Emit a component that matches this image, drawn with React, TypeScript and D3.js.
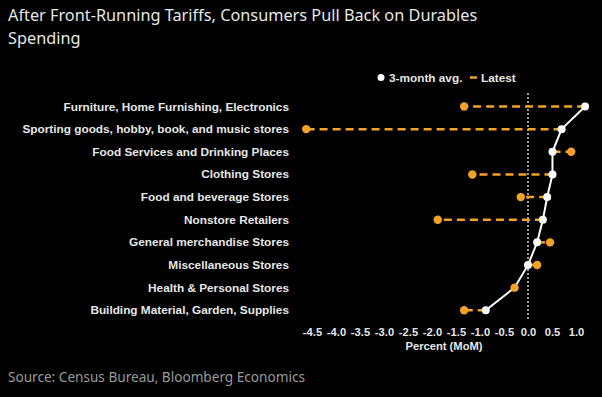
import React, { useEffect, useRef } from 'react';
import * as d3 from 'd3';

const categories = [
  'Furniture, Home Furnishing, Electronics',
  'Sporting goods, hobby, book, and music stores',
  'Food Services and Drinking Places',
  'Clothing Stores',
  'Food and beverage Stores',
  'Nonstore Retailers',
  'General merchandise Stores',
  'Miscellaneous Stores',
  'Health & Personal Stores',
  'Building Material, Garden, Supplies',
];
const avg3m = [1.19, 0.7, 0.51, 0.51, 0.4, 0.31, 0.19, 0.0, -0.28, -0.88];
const latest = [-1.33, -4.62, 0.9, -1.16, -0.15, -1.88, 0.46, 0.19, -0.28, -1.33];
const ticks = [-4.5, -4.0, -3.5, -3.0, -2.5, -2.0, -1.5, -1.0, -0.5, 0.0, 0.5, 1.0];

const ORANGE = '#f2a227';
const TXT = '#e6e6e6';
const LBL = 11.8;

export default function App() {
  const ref = useRef<SVGSVGElement>(null);

  useEffect(() => {
    const svg = d3.select(ref.current);
    svg.selectAll('*').remove();

    svg.append('rect').attr('width', 602).attr('height', 397).attr('fill', '#000');

    const x = d3.scaleLinear().domain([-4.5, 1.0]).range([312, 576]);
    const y = d3.scalePoint().domain(categories).range([106.5, 310.3]);

    // title
    const title = svg.append('text')
      .attr('font-family', 'Noto Sans')
      .attr('font-size', 16.3)
      .attr('fill', TXT);
    title.append('tspan').attr('x', 8).attr('y', 21).text('After Front-Running Tariffs, Consumers Pull Back on Durables');
    title.append('tspan').attr('x', 8).attr('y', 44).text('Spending');

    // legend
    svg.append('circle').attr('cx', 381).attr('cy', 77.5).attr('r', 3.5).attr('fill', '#fff');
    svg.append('text').attr('x', 389).attr('y', 81.5)
      .attr('font-family', 'Liberation Sans').attr('font-weight', 'bold').attr('font-size', LBL)
      .attr('fill', TXT).text('3-month avg.');
    svg.append('line').attr('x1', 470).attr('x2', 477).attr('y1', 77.5).attr('y2', 77.5)
      .attr('stroke', ORANGE).attr('stroke-width', 2.5);
    svg.append('text').attr('x', 481).attr('y', 81.5)
      .attr('font-family', 'Liberation Sans').attr('font-weight', 'bold').attr('font-size', LBL)
      .attr('fill', TXT).text('Latest');

    // zero line
    svg.append('line').attr('x1', x(0)).attr('x2', x(0)).attr('y1', 93).attr('y2', 321)
      .attr('stroke', '#fff').attr('stroke-width', 1.2).attr('stroke-dasharray', '2,2');

    // category labels
    svg.append('g').selectAll('text').data(categories).enter().append('text')
      .attr('x', 289).attr('y', d => (y(d) as number) + 4)
      .attr('text-anchor', 'end')
      .attr('font-family', 'Liberation Sans').attr('font-weight', 'bold').attr('font-size', LBL)
      .attr('fill', TXT).text(d => d);

    const rows = categories.map((c, i) => ({ c, a: avg3m[i], l: latest[i] }));

    // dashed connectors
    svg.append('g').selectAll('line').data(rows).enter().append('line')
      .attr('x1', d => x(d.a)).attr('x2', d => x(d.l))
      .attr('y1', d => y(d.c) as number).attr('y2', d => y(d.c) as number)
      .attr('stroke', ORANGE).attr('stroke-width', 2.5).attr('stroke-dasharray', '8,5');

    // avg line
    const line = d3.line<typeof rows[0]>().x(d => x(d.a)).y(d => y(d.c) as number);
    svg.append('path').datum(rows).attr('d', line).attr('fill', 'none')
      .attr('stroke', '#fff').attr('stroke-width', 2);

    // latest dots
    svg.append('g').selectAll('circle').data(rows).enter().append('circle')
      .attr('cx', d => x(d.l)).attr('cy', d => y(d.c) as number).attr('r', 4.2)
      .attr('fill', ORANGE);

    // avg dots
    svg.append('g').selectAll('circle').data(rows.filter(d => d.a !== d.l)).enter().append('circle')
      .attr('cx', d => x(d.a)).attr('cy', d => y(d.c) as number).attr('r', 4)
      .attr('fill', '#fff');

    // axis
    const fmt = d3.format('.1f');
    const axis = d3.axisBottom(x).tickValues(ticks)
      .tickFormat(d => fmt(d as number).replace('\u2212', '-')).tickSize(0).tickPadding(0);
    const g = svg.append('g').attr('transform', 'translate(0,328)').call(axis);
    g.select('.domain').remove();
    g.selectAll('text')
      .attr('font-family', 'Liberation Sans').attr('font-weight', 'bold').attr('font-size', 11.2)
      .attr('fill', TXT).attr('dy', '0.75em').attr('y', 0);

    svg.append('text').attr('x', 444).attr('y', 349.5).attr('text-anchor', 'middle')
      .attr('font-family', 'Liberation Sans').attr('font-weight', 'bold').attr('font-size', 11.2)
      .attr('fill', TXT).text('Percent (MoM)');

    svg.append('text').attr('x', 8).attr('y', 382)
      .attr('font-family', 'Noto Sans').attr('font-size', 13.6)
      .attr('fill', '#9a9a9a').text('Source: Census Bureau, Bloomberg Economics');
  }, []);

  return (
    <div style={{ position: 'fixed', left: 0, top: 0 }}>
      <svg ref={ref} width={602} height={397} style={{ display: 'block' }} />
    </div>
  );
}
